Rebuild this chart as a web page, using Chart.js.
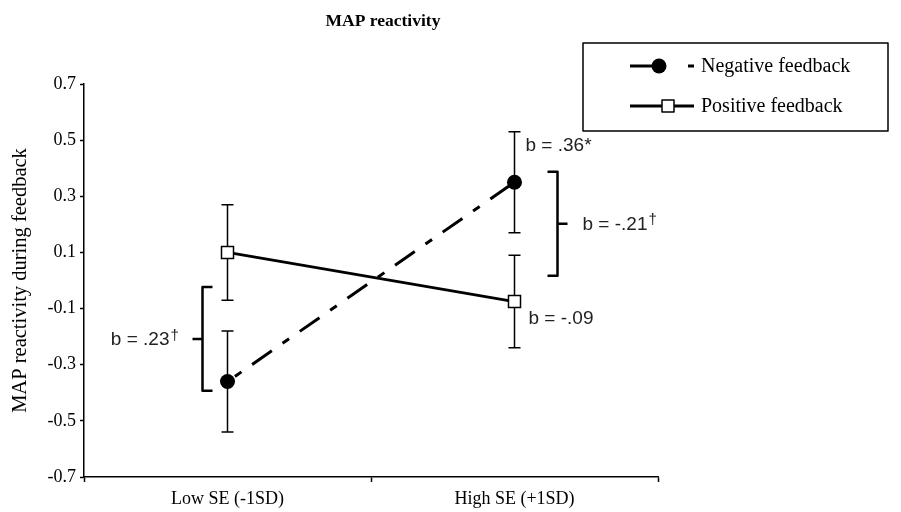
<!DOCTYPE html>
<html>
<head>
<meta charset="utf-8">
<script src="https://cdn.jsdelivr.net/npm/chart.js@4/dist/chart.umd.min.js"></script>
<style>
    html, body { margin: 0; padding: 0; background: #fff; }
    #wrap { width: 901px; height: 512px; }
</style>
</head>
<body>
<div id="wrap"><canvas id="chart" width="901" height="512"></canvas></div>
<script>
// MAP reactivity - simple slopes chart

const categories = ['Low SE (-1SD)', 'High SE (+1SD)'];
const negativeValues = [-0.36, 0.35];
const negativeErrors = [0.18, 0.18];
const positiveValues = [0.10, -0.075];
const positiveErrors = [0.17, 0.165];
const yTicks = [-0.7, -0.5, -0.3, -0.1, 0.1, 0.3, 0.5, 0.7];
const seriesNames = ['Negative feedback', 'Positive feedback'];

// slope annotations: text, category index, value it sits at
const slopeTexts = ['b = .23', 'b = -.21', 'b = .36*', 'b = -.09'];
const slopeDagger = [true, true, false, false];
const slopeCategory = [0, 1, 1, 1];
const slopeAtValue = [-0.21, 0.20, 0.48, -0.135];
// brace spans (value range) for the two comparisons
const braceLow = [-0.393, -0.023];
const braceHigh = [0.017, 0.387];

const SERIF = '"Liberation Serif", "Times New Roman", serif';
const SANS = '"Liberation Sans", Arial, sans-serif';

const errorData = [negativeErrors, positiveErrors];

function drawBrace(ctx, x, yTop, yBot, dir) {
    // dir = -1 : nub points left, hooks go right
    const hook = 10 * -dir;
    const nub = 10 * dir;
    const yMid = (yTop + yBot) / 2;
    ctx.beginPath();
    ctx.moveTo(x + hook, yTop);
    ctx.lineTo(x, yTop);
    ctx.lineTo(x, yBot);
    ctx.lineTo(x + hook, yBot);
    ctx.moveTo(x, yMid);
    ctx.lineTo(x + nub, yMid);
    ctx.stroke();
}

const overlayPlugin = {
    id: 'overlay',
    beforeDatasetsDraw(chart) {
        const ctx = chart.ctx;
        const xs = chart.scales.x;
        const ys = chart.scales.y;
        ctx.save();
        ctx.strokeStyle = '#000';
        ctx.lineWidth = 1.5;
        chart.data.datasets.forEach((ds, d) => {
            ds.data.forEach((v, i) => {
                const x = xs.getPixelForValue(i);
                const yTop = ys.getPixelForValue(v + errorData[d][i]);
                const yBot = ys.getPixelForValue(v - errorData[d][i]);
                ctx.beginPath();
                ctx.moveTo(x, yTop);
                ctx.lineTo(x, yBot);
                ctx.moveTo(x - 6, yTop);
                ctx.lineTo(x + 6, yTop);
                ctx.moveTo(x - 6, yBot);
                ctx.lineTo(x + 6, yBot);
                ctx.stroke();
            });
        });
        ctx.restore();
    },
    afterDraw(chart) {
        const ctx = chart.ctx;
        const xs = chart.scales.x;
        const ys = chart.scales.y;
        ctx.save();

        // title
        ctx.fillStyle = '#000';
        ctx.font = 'bold 17.5px ' + SERIF;
        ctx.textAlign = 'center';
        ctx.textBaseline = 'middle';
        ctx.fillText('MAP reactivity', 383, 21);

        // braces
        ctx.strokeStyle = '#000';
        ctx.lineWidth = 2.5;
        ctx.lineJoin = 'round';
        const x0 = xs.getPixelForValue(0);
        const x1 = xs.getPixelForValue(1);
        drawBrace(ctx, x0 - 25, ys.getPixelForValue(braceLow[1]), ys.getPixelForValue(braceLow[0]), -1);
        drawBrace(ctx, x1 + 43, ys.getPixelForValue(braceHigh[1]), ys.getPixelForValue(braceHigh[0]), 1);

        // slope labels
        const offsets = [-50, 68, 11, 14];
        ctx.fillStyle = '#222';
        ctx.textBaseline = 'middle';
        slopeTexts.forEach((t, k) => {
            const x = xs.getPixelForValue(slopeCategory[k]) + offsets[k];
            const y = ys.getPixelForValue(slopeAtValue[k]);
            ctx.font = '19px ' + SANS;
            const w = ctx.measureText(t).width;
            const dw = slopeDagger[k] ? 8 : 0;
            const left = offsets[k] < 0 ? x - w - dw : x;
            ctx.textAlign = 'left';
            ctx.fillText(t, left, y);
            if (slopeDagger[k]) {
                ctx.font = '15px ' + SANS;
                ctx.fillText('\u2020', left + w + 1, y - 4);
            }
        });

        // legend box
        const box = { left: 583, top: 43, right: 888, bottom: 131 };
        ctx.lineWidth = 1.5;
        ctx.strokeRect(box.left, box.top, box.right - box.left, box.bottom - box.top);
        const rows = [66, 106];
        chart.data.datasets.forEach((ds, d) => {
            const y = rows[d];
            ctx.save();
            ctx.lineWidth = 3;
            ctx.lineCap = 'butt';
            ctx.setLineDash(d === 0 ? [24, 34, 6, 100] : []);
            ctx.beginPath();
            ctx.moveTo(630, y);
            ctx.lineTo(694, y);
            ctx.stroke();
            ctx.restore();
            if (d === 0) {
                ctx.beginPath();
                ctx.fillStyle = '#000';
                ctx.arc(659, y, 7.5, 0, Math.PI * 2);
                ctx.fill();
            } else {
                ctx.fillStyle = '#fff';
                ctx.fillRect(662, y - 6, 12, 12);
                ctx.lineWidth = 1.5;
                ctx.strokeRect(662, y - 6, 12, 12);
            }
            ctx.fillStyle = '#000';
            ctx.font = '20px ' + SERIF;
            ctx.textAlign = 'left';
            ctx.textBaseline = 'middle';
            ctx.fillText(seriesNames[d], 701, y + 1);
        });

        ctx.restore();
    }
};

const ctx = document.getElementById('chart').getContext('2d');
const chart = new Chart(ctx, {
    type: 'line',
    data: {
        labels: categories,
        datasets: [
            {
                label: seriesNames[0],
                data: negativeValues,
                borderColor: '#000',
                borderWidth: 3,
                borderDash: [24, 13, 8, 13],
                borderDashOffset: -30,
                pointStyle: 'circle',
                pointRadius: 7.5,
                pointBackgroundColor: '#000',
                pointBorderColor: '#000',
                pointBorderWidth: 0,
                fill: false,
                tension: 0
            },
            {
                label: seriesNames[1],
                data: positiveValues,
                borderColor: '#000',
                borderWidth: 2.75,
                pointStyle: 'rect',
                pointRadius: 8.5,
                pointBackgroundColor: '#fff',
                pointBorderColor: '#000',
                pointBorderWidth: 1.5,
                fill: false,
                tension: 0
            }
        ]
    },
    options: {
        responsive: false,
        animation: false,
        devicePixelRatio: 1,
        layout: {
            padding: { left: 0, top: 84, right: 243, bottom: 0 }
        },
        plugins: {
            legend: { display: false },
            title: { display: false },
            tooltip: { enabled: false }
        },
        scales: {
            x: {
                type: 'category',
                offset: true,
                afterFit: scale => { scale.height = 35; },
                grid: {
                    offset: true,
                    drawOnChartArea: false,
                    drawTicks: true,
                    tickLength: 5,
                    tickWidth: 1.5,
                    tickColor: '#000'
                },
                border: { display: true, color: '#000', width: 1.5 },
                ticks: {
                    color: '#000',
                    padding: 6,
                    maxRotation: 0,
                    font: { family: SERIF, size: 18 }
                }
            },
            y: {
                min: -0.7,
                max: 0.7,
                afterFit: scale => { scale.width = 84; },
                afterBuildTicks: scale => {
                    scale.ticks = yTicks.map(v => ({ value: v }));
                },
                grid: {
                    drawOnChartArea: false,
                    drawTicks: true,
                    tickLength: 4,
                    tickWidth: 1.5,
                    tickColor: '#000'
                },
                border: { display: true, color: '#000', width: 1.5 },
                ticks: {
                    color: '#000',
                    padding: 4,
                    font: { family: SERIF, size: 18 },
                    callback: v => v.toFixed(1)
                },
                title: {
                    display: true,
                    text: 'MAP reactivity during feedback',
                    color: '#000',
                    padding: { top: 8, bottom: 0 },
                    font: { family: SERIF, size: 20.5 }
                }
            }
        }
    },
    plugins: [overlayPlugin]
});
</script>
</body>
</html>
